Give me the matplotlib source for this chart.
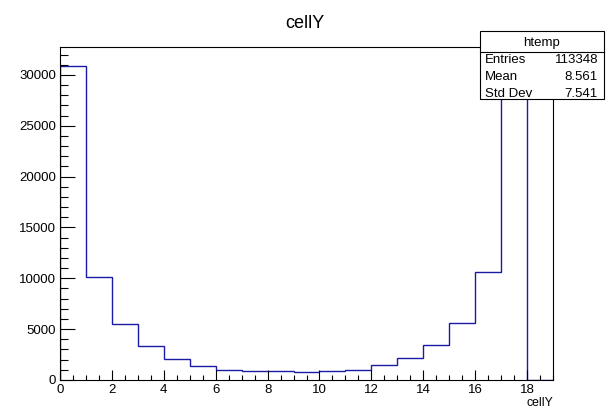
import matplotlib
matplotlib.use('Agg')
from matplotlib import pyplot as plt
from matplotlib.patches import Rectangle
from matplotlib.lines import Line2D
from matplotlib.ticker import MultipleLocator
import numpy as np

plt.rcParams['font.family'] = ['Liberation Sans', 'DejaVu Sans']

# histogram "cellY" (19 bins, 0..19)
bin_edges = np.arange(0, 20)
counts = [30850, 10100, 5550, 3300, 2100, 1400, 1000, 870, 860, 780,
          850, 1000, 1500, 2130, 3430, 5600, 10650, 31400, 0]
stats_name = 'htemp'
stats_rows = [('Entries', '113348'), ('Mean', '8.561'), ('Std Dev', '7.541')]

W, H = 606, 408
fig = plt.figure(figsize=(W / 100, H / 100), dpi=100)


def fx(px):
    return px / W


def fy(py):
    return 1 - py / H


ax = fig.add_axes([fx(60), fy(380), fx(553) - fx(60), fy(47) - fy(380)])
ax.stairs(counts, bin_edges, baseline=0, color='#1a1aa6', linewidth=1.0)
ax.set_xlim(0, 19)
ax.set_ylim(0, 32750)

ax.xaxis.set_major_locator(MultipleLocator(2))
ax.xaxis.set_minor_locator(MultipleLocator(0.5))
ax.yaxis.set_major_locator(MultipleLocator(5000))
ax.yaxis.set_minor_locator(MultipleLocator(1000))
ax.tick_params(axis='x', which='major', direction='in', length=7, width=0.8, labelsize=9.5, pad=3)
ax.tick_params(axis='x', which='minor', direction='in', length=3.3, width=0.8)
ax.tick_params(axis='y', which='major', direction='in', length=10.8, width=0.8, labelsize=9.5, pad=3)
ax.tick_params(axis='y', which='minor', direction='in', length=5.4, width=0.8)
for s in ax.spines.values():
    s.set_linewidth(0.8)

fig.text(fx(305), fy(28), 'cellY', ha='center', va='baseline', fontsize=13)
fig.text(fx(553), fy(397), 'cellY', ha='right', va='top', fontsize=8.8)

# stats box
fig.patches.append(Rectangle((fx(480), fy(99)), fx(604) - fx(480), fy(31.5) - fy(99),
                             transform=fig.transFigure, facecolor='white',
                             edgecolor='black', linewidth=0.8, zorder=5))
fig.lines.append(Line2D([fx(480), fx(604)], [fy(51.7), fy(51.7)],
                        transform=fig.transFigure, color='black', linewidth=0.8, zorder=6))
fig.text(fx(542), fy(45.7), stats_name, ha='center', va='baseline', fontsize=9.5, zorder=7)
for i, (k, v) in enumerate(stats_rows):
    yb = fy(63 + i * 17)
    fig.text(fx(485), yb, k, ha='left', va='baseline', fontsize=9.5, zorder=7)
    fig.text(fx(598), yb, v, ha='right', va='baseline', fontsize=9.5, zorder=7)

plt.savefig('out.png', dpi=100)
